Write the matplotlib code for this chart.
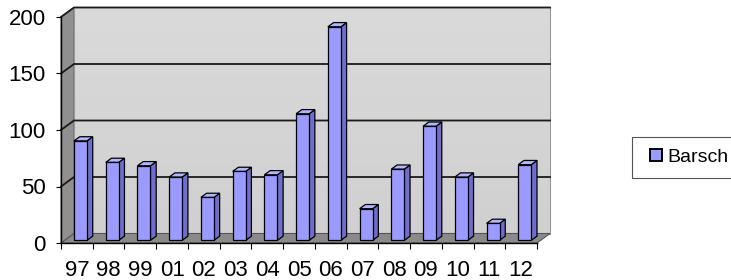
import matplotlib
matplotlib.use("Agg")
import matplotlib.pyplot as plt
from matplotlib.patches import Polygon, Patch, Rectangle
import numpy as np

plt.rcParams['font.family'] = ['Liberation Sans', 'DejaVu Sans']

categories = ["97", "98", "99", "01", "02", "03", "04", "05", "06", "07", "08", "09", "10", "11", "12"]
values = [88, 69, 66, 56, 38, 61, 58, 112, 189, 28, 63, 101, 56, 15, 67]
series_name = "Barsch"
yticks = [0, 50, 100, 150, 200]

W, H = 731, 280
fig = plt.figure(figsize=(W / 100, H / 100), dpi=100)
L, R, B, T = 61, 537, 243, 17  # pixel box of front plane
ax = fig.add_axes([L / W, (H - B) / H, (R - L) / W, (B - T) / H])
n = len(categories)
ymax = 200
ax.set_xlim(0, n)
ax.set_ylim(0, ymax)

pxx = n / (R - L)          # data units per px (x)
pxy = ymax / (B - T)       # data units per px (y)
DX = 13 * pxx              # depth offset
DY = 9.5 * pxy

# side wall
ax.add_patch(Polygon([(0, 0), (0, ymax), (DX, ymax + DY), (DX, DY)],
                     closed=True, facecolor="#909090", edgecolor="#6a6a6a", lw=0.8, clip_on=False, zorder=1))
# back wall with gradient
grad = np.linspace(0, 1, 256).reshape(-1, 1)
ax.imshow(grad, extent=(DX, n + DX, DY, ymax + DY), cmap=matplotlib.colors.LinearSegmentedColormap.from_list(
    "g", ["#d0d0d0", "#dadada"]), aspect="auto", origin="lower", clip_on=False, zorder=1)
ax.add_patch(Polygon([(DX, DY), (DX, ymax + DY), (n + DX, ymax + DY), (n + DX, DY)],
                     closed=True, fill=False, edgecolor="#9a9a9a", lw=0.8, clip_on=False, zorder=1.5))
# floor
ax.add_patch(Polygon([(0, 0), (n, 0), (n + DX, DY), (DX, DY)],
                     closed=True, facecolor="#8a8a8a", edgecolor="#555555", lw=0.8, clip_on=False, zorder=1.6))
# gridlines
for v in yticks[1:]:
    ax.plot([0, DX, n + DX], [v, v + DY, v + DY], color="#1a1a1a", lw=1.3, clip_on=False, zorder=2)

ax.set_xlim(0, n)
ax.set_ylim(0, ymax)

# bars
bw = 13 * pxx
d0, d1 = 0.28, 0.72
for i, v in enumerate(values):
    cx = i + 0.5 + d0 * DX
    x0, x1 = cx - bw / 2, cx + bw / 2
    y0 = d0 * DY
    ddx, ddy = (d1 - d0) * DX, (d1 - d0) * DY
    front = [(x0, y0), (x1, y0), (x1, y0 + v), (x0, y0 + v)]
    side = [(x1, y0), (x1 + ddx, y0 + ddy), (x1 + ddx, y0 + v + ddy), (x1, y0 + v)]
    top = [(x0, y0 + v), (x1, y0 + v), (x1 + ddx, y0 + v + ddy), (x0 + ddx, y0 + v + ddy)]
    for poly, col in ((side, "#6e6ecc"), (top, "#b4b4ff"), (front, "#9a9aff")):
        ax.add_patch(Polygon(poly, closed=True, facecolor=col, edgecolor="black", lw=0.9,
                             clip_on=False, zorder=3 + i * 0.01))

# axes
for s in ("top", "right"):
    ax.spines[s].set_visible(False)
for s in ("left", "bottom"):
    ax.spines[s].set_color("black")
    ax.spines[s].set_linewidth(1.0)
    ax.spines[s].set_zorder(5)
ax.set_yticks(yticks)
ax.set_yticklabels([str(v) for v in yticks], fontsize=16)
ax.tick_params(axis="y", direction="out", length=3.6, width=0.8, pad=7.5)
ax.set_xticks(np.arange(n) + 0.5)
ax.set_xticklabels(categories, fontsize=16)
ax.set_xticks(np.arange(n + 1), minor=True)
ax.tick_params(axis="x", which="major", length=0, pad=12.5)
ax.tick_params(axis="x", which="minor", direction="out", length=4, width=0.8)
ax.patch.set_visible(False)

# legend
fig.add_artist(Rectangle((632 / W, (H - 178) / H), 110 / W, 41 / H, transform=fig.transFigure,
                         facecolor="white", edgecolor="#555555", lw=0.8, zorder=6))
handle = Patch(facecolor="#9a9aff", edgecolor="black", lw=1.4)
leg = fig.legend([handle], [series_name], loc="center left",
                 bbox_to_anchor=(650 / W, (H - 157.5) / H), fontsize=14,
                 frameon=False, handlelength=0.6, handleheight=0.6,
                 handletextpad=0.3, borderpad=0, borderaxespad=0)
leg.set_zorder(7)

fig.savefig("out.png", dpi=100)
